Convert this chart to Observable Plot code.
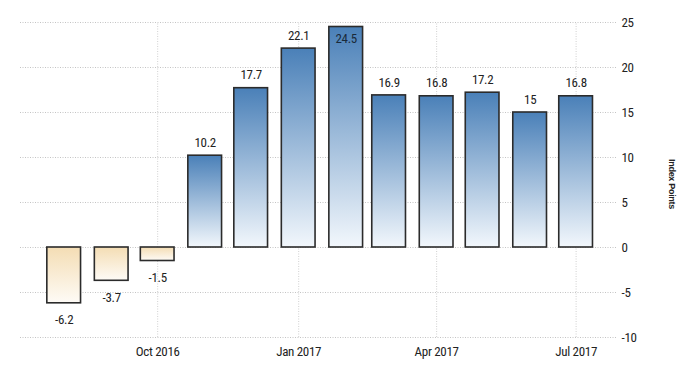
<!DOCTYPE html>
<html>
<head>
<meta charset="utf-8">
<script src="https://cdn.jsdelivr.net/npm/d3@7"></script>
<script src="https://cdn.jsdelivr.net/npm/@observablehq/plot@0.6"></script>
<style>
  html, body { margin: 0; padding: 0; background: #fff; }
  svg text { font-stretch: 75%; letter-spacing: -0.3px; }
  svg text.ylab { font-stretch: normal; letter-spacing: 0; }
</style>
</head>
<body>
<div id="chart"></div>
<script>
const months = ["2016-08-01","2016-09-01","2016-10-01","2016-11-01","2016-12-01","2017-01-01",
                "2017-02-01","2017-03-01","2017-04-01","2017-05-01","2017-06-01","2017-07-01"];
const values = [-6.2, -3.7, -1.5, 10.2, 17.7, 22.1, 24.5, 16.9, 16.8, 17.2, 15, 16.8];
const xTicks = ["2016-10-01","2017-01-01","2017-04-01","2017-07-01"];
const yTicks = [-10, -5, 0, 5, 10, 15, 20, 25];
const yLabel = "Index Points";

const data = months.map((m, i) => ({date: new Date(m), value: values[i]}));
const narrow = "'Liberation Sans Narrow', 'Arial Narrow', Roboto, 'DejaVu Sans Condensed', sans-serif";

const gradients = () => {
  const defs = d3.create("svg:defs");
  const gp = defs.append("linearGradient").attr("id", "gPos").attr("x1", 0).attr("y1", 0).attr("x2", 0).attr("y2", 1);
  gp.append("stop").attr("offset", "0%").attr("stop-color", "#4a80b8");
  gp.append("stop").attr("offset", "100%").attr("stop-color", "#f2f7fc");
  const gn = defs.append("linearGradient").attr("id", "gNeg").attr("x1", 0).attr("y1", 0).attr("x2", 0).attr("y2", 1);
  gn.append("stop").attr("offset", "0%").attr("stop-color", "#f4ddb4");
  gn.append("stop").attr("offset", "100%").attr("stop-color", "#fefbf6");
  return defs.node();
};

const half = 11;
const barOpts = {
  x1: d => d3.utcDay.offset(d.date, -half),
  x2: d => d3.utcDay.offset(d.date, half),
  y1: 0,
  y2: "value",
  stroke: "#2b2b2b",
  strokeWidth: 1.6
};

const chart = Plot.plot({
  width: 700,
  height: 375,
  marginLeft: 20,
  marginRight: 83,
  marginTop: 22,
  marginBottom: 38,
  style: {fontFamily: narrow, fontSize: "13px", color: "#222", background: "#fff"},
  x: {
    type: "utc",
    domain: [new Date("2016-07-03T12:00Z"), new Date("2017-07-28T00:00Z")],
    ticks: xTicks.map(d => new Date(d)),
    tickFormat: d3.utcFormat("%b %Y"),
    tickSize: 0,
    tickPadding: 9,
    label: null
  },
  y: {
    domain: [-10, 25],
    ticks: yTicks,
    tickFormat: d => String(d),
    label: null
  },
  marks: [
    gradients,
    Plot.gridY(yTicks, {stroke: "#c4c4c4", strokeOpacity: 1, strokeDasharray: "1,1.5"}),
    Plot.gridX(xTicks.map(d => new Date(d)), {stroke: "#d0d0d0", strokeOpacity: 1, strokeDasharray: "1,1.5", y1: -10, y2: 25}),
    Plot.axisX({ticks: xTicks.map(d => new Date(d)), tickFormat: d3.utcFormat("%b %Y"), tickSize: 0, tickPadding: 9, label: null}),
    Plot.axisY({anchor: "right", ticks: yTicks, tickFormat: d => String(d), tickSize: 0, tickPadding: 4, label: null}),
    Plot.rectY(data.filter(d => d.value >= 0), {...barOpts, fill: "url(#gPos)"}),
    Plot.rectY(data.filter(d => d.value < 0), {...barOpts, fill: "url(#gNeg)"}),
    Plot.text(data.filter(d => d.value >= 0 && d.value <= 23), {x: "date", y: "value", text: d => String(d.value), dy: -13, fill: "#222", fontSize: 13}),
    Plot.text(data.filter(d => d.value > 23), {x: "date", y: "value", text: d => String(d.value), dy: 12, fill: "#1a2a3a", fontSize: 13}),
    Plot.text(data.filter(d => d.value < 0), {x: "date", y: "value", text: d => String(d.value), dy: 17, fill: "#222", fontSize: 13}),
    Plot.text([yLabel], {className: "ylab", frameAnchor: "right", textAnchor: "middle", rotate: 90, dx: 54, dy: 4, fontFamily: "'Liberation Sans', Arial, sans-serif", fontWeight: "bold", fontSize: 9, fill: "#222"})
  ]
});
document.getElementById("chart").appendChild(chart);
</script>
</body>
</html>
